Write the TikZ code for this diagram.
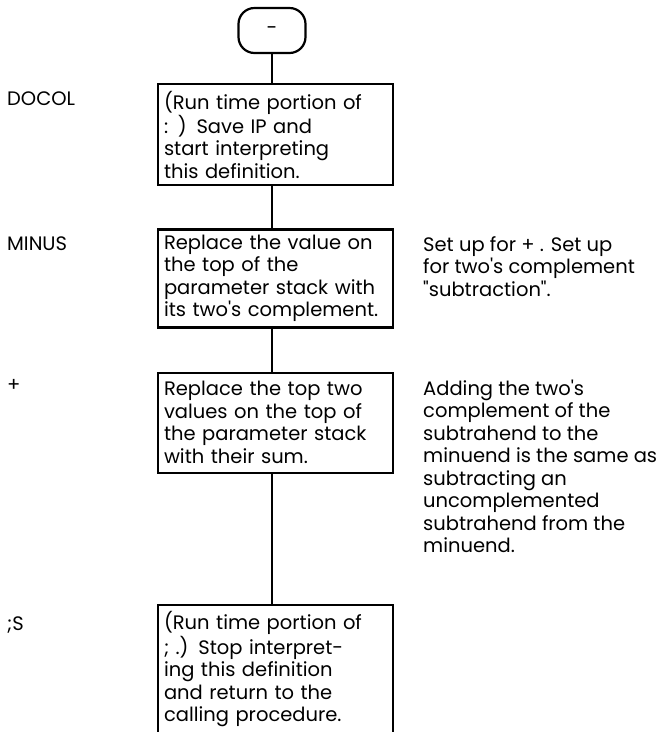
\documentclass[tikz,border=0pt]{standalone}
\usepackage{fontspec}
\newfontfamily\flowfont{Poppins}
\usepackage{tikz}
\usetikzlibrary{positioning}

\begin{document}
\begin{tikzpicture}[
  x=1pt, y=1pt,
  node distance=42pt,
  term/.style={rectangle, rounded corners=16pt, draw, line width=2.2pt,
               minimum width=67pt, minimum height=45pt,
               font=\flowfont\fontsize{19.5}{22.5}\selectfont},
  stepbox/.style={rectangle, draw, line width=2.2pt, text width=223pt,
                  inner xsep=6pt, inner ysep=3pt, align=left,
                  font=\flowfont\fontsize{19.5}{22.5}\selectfont},
  tag/.style={anchor=north west, inner xsep=0pt, inner ysep=8pt,
              font=\flowfont\fontsize{19.5}{22.5}\selectfont},
  note/.style={tag, align=left},
  link/.style={line width=2.2pt}
]
  \useasboundingbox (0,0) rectangle (657,-732);
  \coordinate (lmargin) at (7,0);
  \coordinate (nmargin) at (423,0);

  \node[term] (start) at (272,-30.5) {-};
  \node[stepbox, below=29pt of start, xshift=3.5pt, minimum height=101pt] (docol)
    {(Run time portion of\\: ) Save IP and\\start interpreting\\this definition.};
  \node[stepbox, below=of docol, minimum height=98pt] (minus)
    {Replace the value on\\the top of the\\parameter stack with\\its two's complement.};
  \node[stepbox, below=43pt of minus, minimum height=100pt] (plus)
    {Replace the top two\\values on the top of\\the parameter stack\\with their sum.};
  \node[stepbox, below=130pt of plus, minimum height=129pt] (semis)
    {(Run time portion of\\; .) Stop interpret-\\ing this definition\\and return to the\\calling procedure.};

  \node[tag] (tag-docol) at (docol.north -| lmargin) {DOCOL};
  \node[tag] (tag-minus) at (minus.north -| lmargin) {MINUS};
  \node[tag] (tag-plus) at (plus.north -| lmargin) {+};
  \node[tag, yshift=-5pt] (tag-semis) at (semis.north -| lmargin) {;S};

  \node[note] (note-minus) at (minus.north -| nmargin)
    {Set up for + . Set up\\for two's complement\\"subtraction".};
  \node[note] (note-plus) at (plus.north -| nmargin)
    {Adding the two's\\complement of the\\subtrahend to the\\minuend is the same as\\subtracting an\\uncomplemented\\subtrahend from the\\minuend.};

  \draw[link] (start) -- (start |- docol.north);
  \draw[link] (docol.south -| start) -- (minus.north -| start);
  \draw[link] (minus.south -| start) -- (plus.north -| start);
  \draw[link] (plus.south -| start) -- (semis.north -| start);
\end{tikzpicture}
\end{document}
